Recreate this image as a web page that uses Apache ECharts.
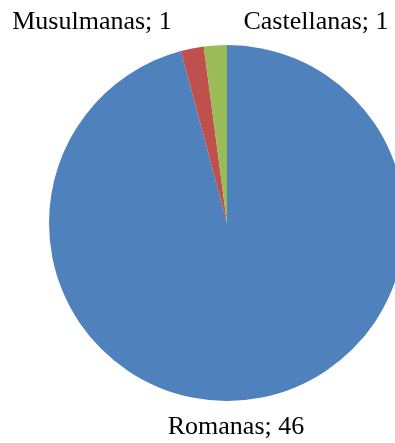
<!DOCTYPE html>
<html>
<head>
<meta charset="utf-8">
<style>html,body{margin:0;padding:0;background:#fff;}#c{width:395px;height:443px;}</style>
<script src="https://cdn.jsdelivr.net/npm/echarts@6/dist/echarts.min.js"></script>
</head>
<body>
<div id="c"></div>
<script>
var categories = ['Romanas', 'Musulmanas', 'Castellanas'];
var values = [46, 1, 1];
var colors = ['#4F81BD', '#C0504D', '#9BBB59'];

var labelSpots = [[236, 427], [92, 22], [316, 22]];

var chart = echarts.init(document.getElementById('c'), null, {renderer: 'canvas'});
chart.setOption({
  animation: false,
  backgroundColor: '#ffffff',
  series: [{
    type: 'pie',
    center: [227, 223],
    radius: 178,
    startAngle: 90,
    clockwise: true,
    avoidLabelOverlap: false,
    emphasis: {disabled: true},
    data: categories.map(function (c, i) {
      return {name: c, value: values[i], itemStyle: {color: colors[i]}};
    }),
    label: {
      show: true,
      position: 'outside',
      formatter: '{b}; {c}',
      color: '#000',
      fontFamily: 'Liberation Serif',
      fontSize: 26
    },
    labelLine: {show: false},
    labelLayout: function (p) {
      var s = labelSpots[p.dataIndex];
      return {x: s[0], y: s[1], align: 'center', verticalAlign: 'middle'};
    }
  }]
});
</script>
</body>
</html>
